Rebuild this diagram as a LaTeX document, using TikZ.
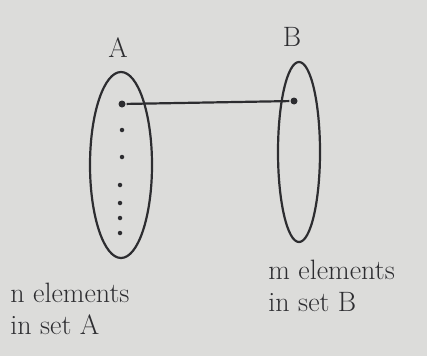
\documentclass[tikz,border=0pt]{standalone}
\usetikzlibrary{calc}
\definecolor{paper}{RGB}{220,220,218}
\definecolor{pencil}{RGB}{45,45,48}
\tikzset{
  dot/.style={circle, fill=pencil, inner sep=0pt, minimum size=7pt},
  smalldot/.style={circle, fill=pencil, inner sep=0pt, minimum size=4.5pt},
  hand/.style={text=pencil, font=\fontsize{28}{32}\selectfont, align=left},
}
\begin{document}
\begin{tikzpicture}[x=1pt, y=-1pt, line width=2.2pt, draw=pencil]
    \path[fill=paper](0,0)rectangle(427,356);
    \useasboundingbox(0,0)rectangle(427,356);
    \coordinate(CA)at(121,165); % center of set A
    \coordinate(CB)at(299,152); % center of set B

    \path[draw](CA)ellipse[x radius=31, y radius=93]; % set A
    \path[draw](CB)ellipse[x radius=21, y radius=90]; % set B
    % elements
    \node(a1)[dot]at(122,104){};
    \node(a2)[smalldot]at(122,130){};
    \node(a3)[smalldot]at(122,157){};
    \node(a4)[smalldot]at(120,185){};
    \node(a5)[smalldot]at(120,203){};
    \node(a6)[smalldot]at(120,218){};
    \node(a7)[smalldot]at(120,233){};
    \node(b1)[dot]at(294,101){};
    \path[draw](a1)to(b1);
    % labels
    \node(labA)[hand]at(118,48){A};
    \node(labB)[hand]at(292,37){B};
    \node(textA)[hand, anchor=north west]at(6,279){n elements\\in set A};
    \node(textB)[hand, anchor=north west]at(264,256){m elements\\in set B};
\end{tikzpicture}
\end{document}
